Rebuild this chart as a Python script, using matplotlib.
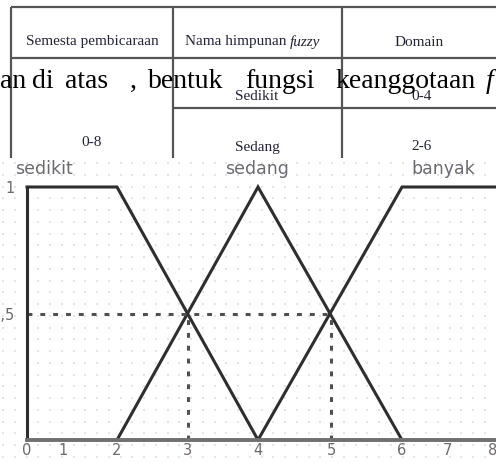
import matplotlib.pyplot as plt
import numpy as np

# table that sits above the chart (screenshot of a document page)
HEADERS = ["Semesta pembicaraan", "Nama himpunan fuzzy", "Domain"]
UNIVERSE = "0-8"
SET_NAMES = ["Sedikit", "Sedang"]
DOMAINS = ["0-4", "2-6"]
CAPTION_WORDS = ["an", "di", "atas", ",", "bentuk", "fungsi", "keanggotaan", "f"]

# membership functions
X_TICKS = [0, 1, 2, 3, 4, 5, 6, 7, 8]
Y_TICKS = [0.5, 1]
Y_TICK_LABELS = ["0,5", "1"]
SEDIKIT_X = [0, 2, 4]
SEDIKIT_Y = [1, 1, 0]
SEDANG_X = [2, 4, 6]
SEDANG_Y = [0, 1, 0]
BANYAK_X = [4, 6, 8.1]
BANYAK_Y = [0, 1, 1]
CROSS_X = [3, 5]
CROSS_Y = 0.5
SET_LABELS = ["sedikit", "sedang", "banyak"]

W, H = 496, 462
SERIF = ["Liberation Serif", "DejaVu Serif"]

# the drawing is not evenly spaced along x, so map values to pixels piecewise
X_AT = [-1, 0, 1, 2, 3, 4, 5, 6, 7, 8, 9]
X_PX = [-9, 27, 63, 117, 188, 258, 331, 402, 447, 493, 539]


def fwd(x):
    return np.interp(x, X_AT, X_PX)


def inv(p):
    return np.interp(p, X_PX, X_AT)


fig = plt.figure(figsize=(W / 100, H / 100), dpi=100)

# --- table part, in pixel coordinates ---
tab = fig.add_axes([0, 0, 1, 1], zorder=0)
tab.set_xlim(0, W)
tab.set_ylim(H, 0)
tab.axis("off")

line_kw = dict(color="#555555", lw=1.6, solid_capstyle="butt")
tab.plot([11, W], [7, 7], **line_kw)
tab.plot([11, W], [58, 58], **line_kw)
tab.plot([173, W], [108, 108], **line_kw)
for xv in (11, 173, 342):
    tab.plot([xv, xv], [7, 158], **line_kw)

cell_kw = dict(family=SERIF, fontsize=11, color="#23233a", va="center")
tab.text(92, 42, HEADERS[0], ha="center", **cell_kw)
name_head, italic_word = HEADERS[1].rsplit(" ", 1)
tab.text(290, 42, name_head + " ", ha="right", **cell_kw)
tab.text(290, 42, italic_word, ha="left", style="italic", **cell_kw)
tab.text(419, 42, HEADERS[2], ha="center", **cell_kw)
tab.text(92, 143, UNIVERSE, ha="center", **cell_kw)
for name, dom, yy in zip(SET_NAMES, DOMAINS, (97, 147)):
    tab.text(257, yy, name, ha="center", **cell_kw)
    tab.text(422, yy, dom, ha="center", **cell_kw)

# justified body text line overlapping the table
word_x = [0, 32, 65, 130, 148, 245, 335, 486]
for word, wx in zip(CAPTION_WORDS, word_x):
    tab.text(wx, 88, word, family=SERIF, fontsize=20, color="black",
             ha="left", va="baseline", zorder=5,
             style="italic" if word == "f" else "normal")

# --- chart part ---
rect = [0, 0, 1, (H - 156) / H]

bg = fig.add_axes(rect, zorder=1)
bg.set_xlim(0, W)
bg.set_ylim(H, 156)
bg.set_facecolor("white")
bg.axis("off")
bg.patch.set_visible(True)
gx, gy = np.meshgrid(np.arange(3, W, 11.75), np.arange(163, H, 11.75))
bg.scatter(gx.ravel(), gy.ravel(), s=1.3, marker="s", color="#e4e4e4", lw=0)

ax = fig.add_axes(rect, zorder=2)
ax.patch.set_visible(False)
ax.set_xscale("function", functions=(fwd, inv))
ax.set_xlim(inv(0), inv(W))
ax.set_ylim(-22 / 253, 1 + 31 / 253)

for side in ("top", "right"):
    ax.spines[side].set_visible(False)
ax.spines["bottom"].set_position(("data", 0))
ax.spines["bottom"].set_color("#707070")
ax.spines["bottom"].set_linewidth(2.8)
ax.spines["bottom"].set_bounds(0, inv(W))
ax.spines["left"].set_position(("data", 0))
ax.spines["left"].set_color("#2e2e2e")
ax.spines["left"].set_linewidth(2.2)
ax.spines["left"].set_bounds(0, 1)

ax.set_xticks(X_TICKS)
ax.set_xticklabels([str(t) for t in X_TICKS])
ax.set_yticks(Y_TICKS)
ax.set_yticklabels(Y_TICK_LABELS)
ax.tick_params(axis="both", length=0, labelsize=10.5, labelcolor="#6f6a6a")
ax.tick_params(axis="x", pad=2)
ax.tick_params(axis="y", pad=9)

mf_kw = dict(color="#2e2e2e", lw=2.2, solid_joinstyle="miter", clip_on=False)
ax.plot(SEDIKIT_X, SEDIKIT_Y, **mf_kw)
ax.plot(SEDANG_X, SEDANG_Y, **mf_kw)
ax.plot(BANYAK_X, BANYAK_Y, **mf_kw)

dash_kw = dict(color="#505050", lw=2.2, ls=(0, (1.6, 2.6)))
ax.plot([0, max(CROSS_X)], [CROSS_Y, CROSS_Y], **dash_kw)
for cx in CROSS_X:
    ax.plot([cx, cx], [0, CROSS_Y], **dash_kw)

for lab, lx in zip(SET_LABELS, (0.47, 3.99, 6.92)):
    ax.text(lx, 1.07, lab, ha="center", va="center", fontsize=12.5,
            color="#6a6a72")

fig.savefig("out.png", dpi=100)
